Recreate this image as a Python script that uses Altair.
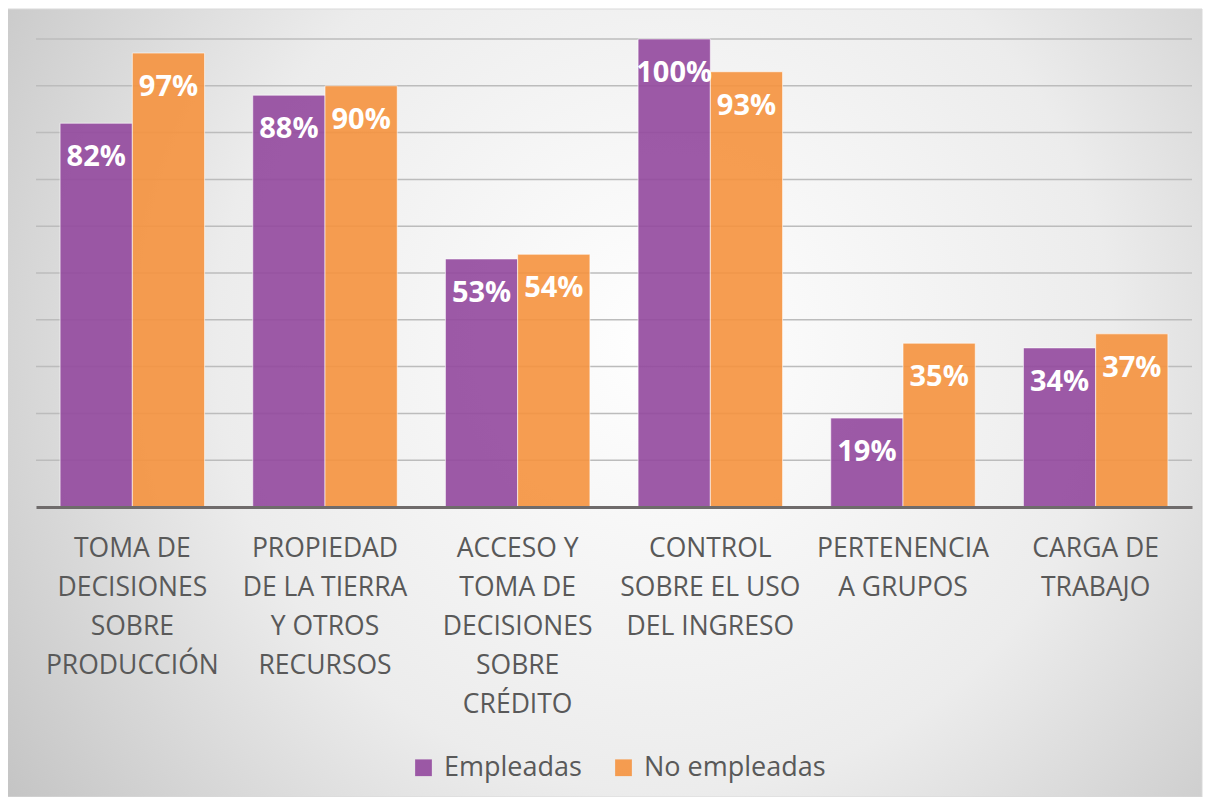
import altair as alt
import pandas as pd

categories = [
    "TOMA DE|DECISIONES|SOBRE|PRODUCCIÓN",
    "PROPIEDAD|DE LA TIERRA|Y OTROS|RECURSOS",
    "ACCESO Y|TOMA DE|DECISIONES|SOBRE|CRÉDITO",
    "CONTROL|SOBRE EL USO|DEL INGRESO",
    "PERTENENCIA|A GRUPOS",
    "CARGA DE|TRABAJO",
]
series = ["Empleadas", "No empleadas"]
empleadas = [82, 88, 53, 100, 19, 34]
no_empleadas = [97, 90, 54, 93, 35, 37]
colors = ["#92489D", "#F5923E"]
grid_values = [10, 20, 30, 40, 50, 60, 70, 80, 90, 100]

rows = []
for i, c in enumerate(categories):
    rows.append({"cat": c, "serie": series[0], "val": empleadas[i]})
    rows.append({"cat": c, "serie": series[1], "val": no_empleadas[i]})
df = pd.DataFrame(rows)
df["label"] = df["val"].astype(str) + "%"

W, H = 1156, 468
FONT = "Open Sans"

xenc = alt.X("cat:N", sort=categories,
             scale=alt.Scale(paddingInner=0.25, paddingOuter=0.125),
             axis=alt.Axis(title=None, labelExpr="split(datum.label, '|')",
                           labelAngle=0, labelFontSize=26.5, labelFont=FONT,
                           labelColor="#595959", labelLineHeight=39,
                           labelPadding=28, ticks=False, domainColor="#6f6b6b",
                           domainWidth=3, grid=False, labelLimit=300, zindex=1))
yscale = alt.Scale(domain=[0, 100])
yenc = alt.Y("val:Q", scale=yscale, axis=None)
xoff = alt.XOffset("serie:N", sort=series, scale=alt.Scale(paddingInner=0, paddingOuter=0))

bg = alt.Chart(pd.DataFrame({"a": [0]})).mark_rect(
    fill=alt.RadialGradient(
        gradient="radial", x1=0.55, y1=0.45, r1=0.0, x2=0.55, y2=0.45, r2=0.75,
        stops=[alt.GradientStop(offset=0, color="#ffffff"),
               alt.GradientStop(offset=0.5, color="#ececec"),
               alt.GradientStop(offset=1, color="#b9b9b9")]),
    stroke="#d9d9d9", strokeWidth=1
).encode(x=alt.value(-30), x2=alt.value(W + 10), y=alt.value(-30), y2=alt.value(H + 290))

grid = alt.Chart(pd.DataFrame({"g": grid_values})).mark_rule(
    color="#bcbcbc", strokeWidth=1.5
).encode(y=alt.Y("g:Q", scale=yscale, axis=None), x=alt.value(0), x2=alt.value(W))

bars = alt.Chart(df).mark_bar(fillOpacity=0.9, stroke="#ffffff", strokeOpacity=0.6,
                              strokeWidth=1).encode(
    x=xenc, y=yenc, xOffset=xoff,
    color=alt.Color("serie:N", sort=series,
                    scale=alt.Scale(domain=series, range=colors),
                    legend=alt.Legend(title=None, orient="none", direction="horizontal",
                                      legendX=374, legendY=715, symbolType="square",
                                      symbolSize=280, symbolOpacity=0.9,
                                      labelFontSize=27, labelFont=FONT,
                                      labelColor="#595959", columnPadding=28,
                                      labelLimit=400, labelOffset=7,
                                      symbolStrokeWidth=0)),
)

labels = alt.Chart(df).mark_text(color="white", font=FONT, fontWeight="bold",
                                 fontSize=29, baseline="middle", dy=34).encode(
    x=alt.X("cat:N", sort=categories), y="val:Q", xOffset=xoff, text="label:N")

chart = alt.layer(bg, grid, bars, labels).properties(
    width=W, height=H,
    padding={"left": 28, "top": 31, "right": 12, "bottom": 290},
    autosize=alt.AutoSizeParams(type="none"),
).configure_view(stroke=None).configure(background="#ffffff")

chart.save("out.html", embed_options={"renderer": "svg", "actions": False})
